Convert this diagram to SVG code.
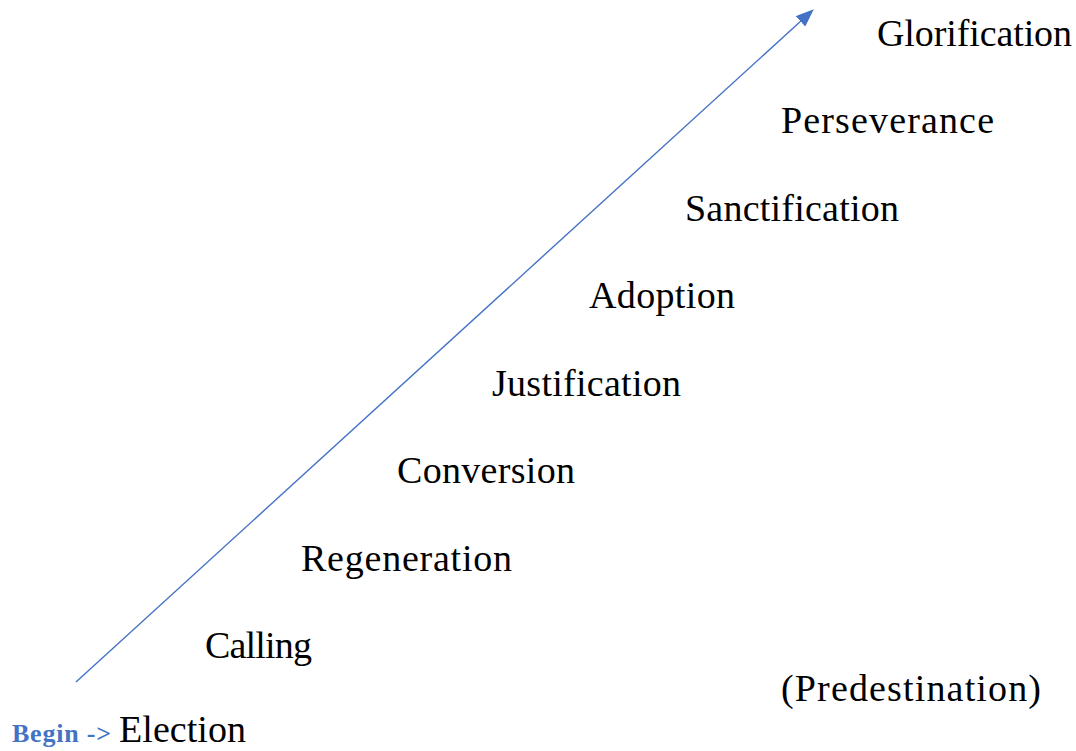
<svg xmlns="http://www.w3.org/2000/svg" width="1076" height="751" viewBox="0 0 1076 751">
<style>
.t{font-family:"Liberation Serif","Times New Roman",serif;font-size:38px;fill:#000}
.b{font-family:"Liberation Serif","Times New Roman",serif;font-size:26px;font-weight:700;fill:#4472C4}
</style>
<defs>
<marker id="ah" markerWidth="18" markerHeight="14" refX="2" refY="7" orient="auto" markerUnits="userSpaceOnUse" viewBox="0 0 18 14">
<path d="M0,0 L18,7 L0,14 z" fill="#4472C4"/>
</marker>
</defs>
<rect width="1076" height="751" fill="#fff"/>
<g id="connectors">
<line x1="76" y1="682" x2="802" y2="20" stroke="#4472C4" stroke-width="1.4" marker-end="url(#ah)"/>
</g>
<g id="glorification"><text class="t" x="877" y="46" textLength="195">Glorification</text></g>
<g id="perseverance"><text class="t" x="781" y="133" textLength="213">Perseverance</text></g>
<g id="sanctification"><text class="t" x="685" y="221" textLength="214">Sanctification</text></g>
<g id="adoption"><text class="t" x="589" y="308" textLength="146">Adoption</text></g>
<g id="justification"><text class="t" x="492" y="396" textLength="189">Justification</text></g>
<g id="conversion"><text class="t" x="397" y="483" textLength="178">Conversion</text></g>
<g id="regeneration"><text class="t" x="301" y="571" textLength="211">Regeneration</text></g>
<g id="calling"><text class="t" x="205" y="658" textLength="107">Calling</text></g>
<g id="predestination"><text class="t" x="781" y="701" textLength="260">(Predestination)</text></g>
<g id="election"><text class="b" x="12" y="742" textLength="99">Begin -&gt;</text><text class="t" x="119" y="742" textLength="127">Election</text></g>
</svg>
